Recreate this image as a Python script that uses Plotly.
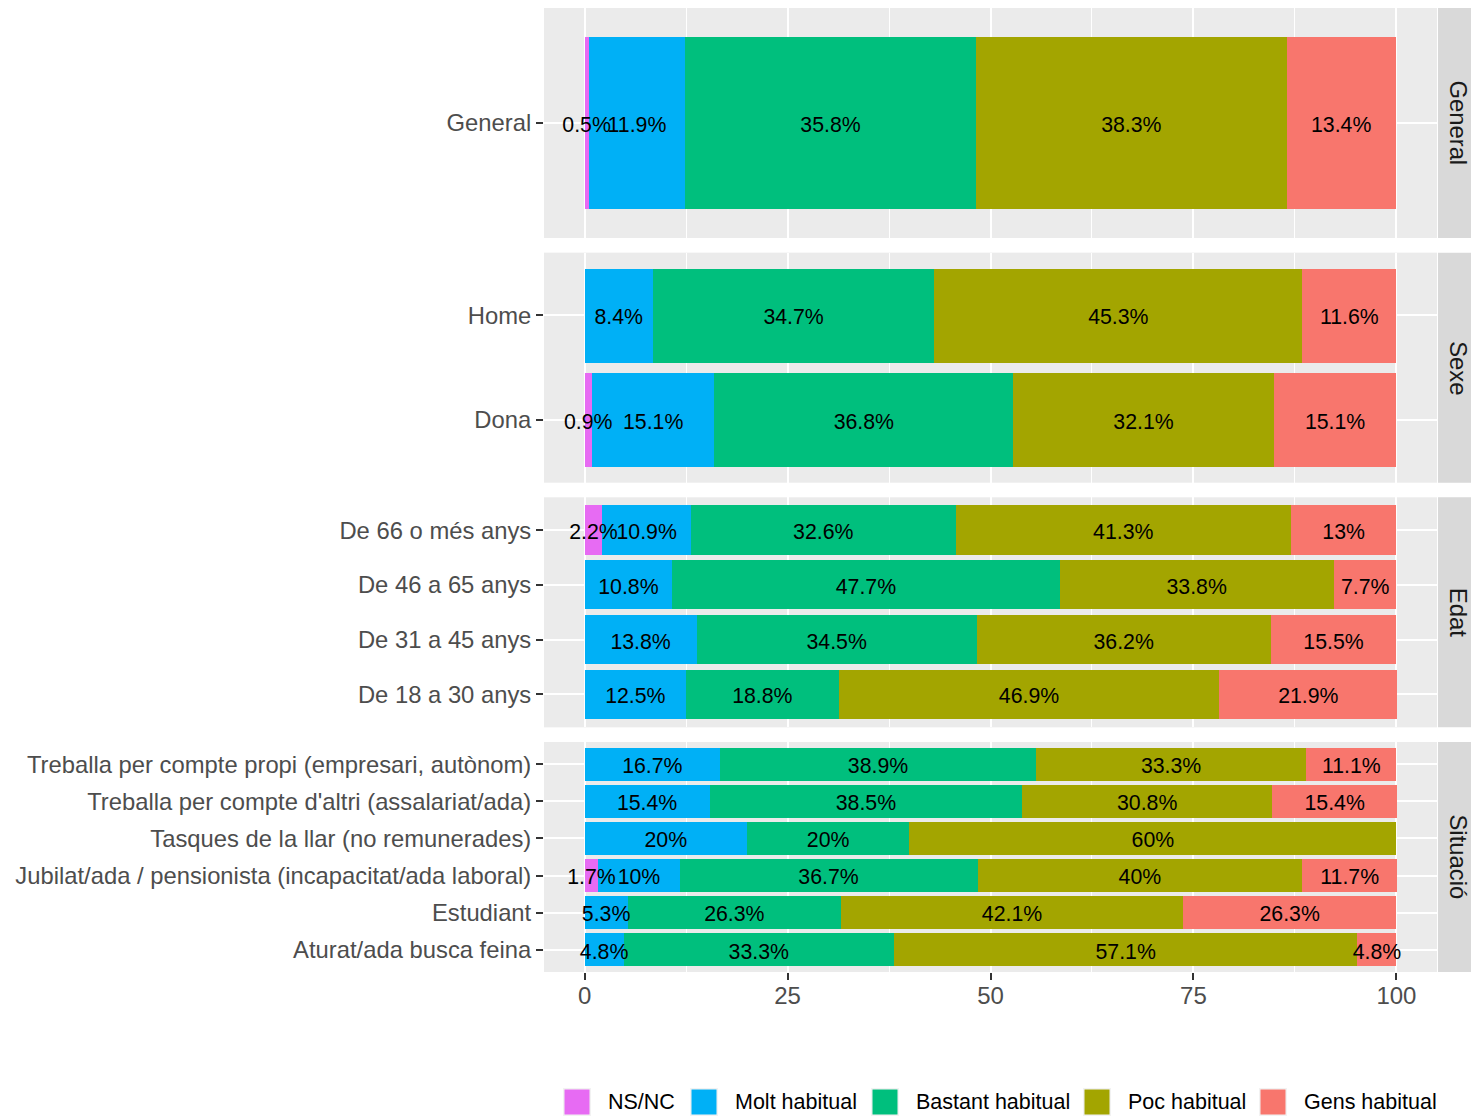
import plotly.graph_objects as go

# ---------------- data ----------------
responses = ["NS/NC", "Molt habitual", "Bastant habitual", "Poc habitual", "Gens habitual"]
colors = ["#E76BF3", "#00B0F6", "#00BF7D", "#A3A500", "#F8766D"]

facets = ["General", "Sexe", "Edat", "Situació"]

# rows listed bottom-to-top (ggplot order)
general_rows = ["General"]
sexe_rows = ["Dona", "Home"]
edat_rows = ["De 18 a 30 anys", "De 31 a 45 anys", "De 46 a 65 anys", "De 66 o més anys"]
situacio_rows = [
    "Aturat/ada busca feina",
    "Estudiant",
    "Jubilat/ada / pensionista (incapacitat/ada laboral)",
    "Tasques de la llar (no remunerades)",
    "Treballa per compte d'altri (assalariat/ada)",
    "Treballa per compte propi (empresari, autònom)",
]

general_nsnc = [0.5]
general_molt = [11.9]
general_bastant = [35.8]
general_poc = [38.3]
general_gens = [13.4]

sexe_nsnc = [0.9, 0]
sexe_molt = [15.1, 8.4]
sexe_bastant = [36.8, 34.7]
sexe_poc = [32.1, 45.3]
sexe_gens = [15.1, 11.6]

edat_nsnc = [0, 0, 0, 2.2]
edat_molt = [12.5, 13.8, 10.8, 10.9]
edat_bastant = [18.8, 34.5, 47.7, 32.6]
edat_poc = [46.9, 36.2, 33.8, 41.3]
edat_gens = [21.9, 15.5, 7.7, 13]

situacio_nsnc = [0, 0, 1.7, 0, 0, 0]
situacio_molt = [4.8, 5.3, 10, 20, 15.4, 16.7]
situacio_bastant = [33.3, 26.3, 36.7, 20, 38.5, 38.9]
situacio_poc = [57.1, 42.1, 40, 60, 30.8, 33.3]
situacio_gens = [4.8, 26.3, 11.7, 0, 15.4, 11.1]

x_ticks = [0, 25, 50, 75, 100]
x_minor = [12.5, 37.5, 62.5, 87.5]

facet_rows = [general_rows, sexe_rows, edat_rows, situacio_rows]
facet_values = [
    [general_nsnc, general_molt, general_bastant, general_poc, general_gens],
    [sexe_nsnc, sexe_molt, sexe_bastant, sexe_poc, sexe_gens],
    [edat_nsnc, edat_molt, edat_bastant, edat_poc, edat_gens],
    [situacio_nsnc, situacio_molt, situacio_bastant, situacio_poc, situacio_gens],
]

# ---------------- layout geometry ----------------
W, H = 1471, 1116
FONT = "Liberation Sans, Arial, Helvetica, sans-serif"
LABEL_SIZE = 21.3
LABEL_DROP_PX = 3.5  # nudge segment labels down so they share the tick-label baseline


def px(x):
    return x / W


def py(y):
    return 1 - y / H


panel_left, panel_right = 544, 1437
strip_left, strip_right = 1438, 1471
panel_top, panel_bottom = 8, 972
n_panels = len(facets)
gap = 14.67
panel_h = (panel_bottom - panel_top - gap * (n_panels - 1)) / n_panels

fig = go.Figure()
shapes = []
annotations = []

for i, (facet, rows, vals) in enumerate(zip(facets, facet_rows, facet_values)):
    ax = "" if i == 0 else str(i + 1)
    xref, yref = "x" + ax, "y" + ax
    n = len(rows)
    pos = list(range(n))
    y_lo, y_hi = -0.6, n - 0.4
    drop = LABEL_DROP_PX * (y_hi - y_lo) / panel_h

    for j, resp in enumerate(responses):
        fig.add_trace(go.Bar(
            x=vals[j], y=pos, orientation="h", width=0.9,
            marker=dict(color=colors[j], line=dict(width=0)),
            name=resp, showlegend=False, xaxis=xref, yaxis=yref,
            customdata=rows,
            hovertemplate="%{customdata}<br>" + resp + ": %{x}%<extra></extra>",
        ))
    # labels centred in each segment
    tx, ty, tt = [], [], []
    for r in range(n):
        cum = 0.0
        for j in range(len(responses)):
            v = vals[j][r]
            if v > 0:
                tx.append(cum + v / 2)
                ty.append(pos[r] - drop)
                tt.append(f"{v:g}%")
            cum += v
    fig.add_trace(go.Scatter(
        x=tx, y=ty, text=tt, mode="text", textposition="middle center",
        textfont=dict(size=LABEL_SIZE, color="black", family=FONT),
        showlegend=False, hoverinfo="skip", xaxis=xref, yaxis=yref,
        cliponaxis=False,
    ))

    top = panel_top + i * (panel_h + gap)
    bot = top + panel_h
    dom = [py(bot), py(top)]
    is_bottom = i == n_panels - 1
    fig.layout["xaxis" + ax] = dict(
        domain=[px(panel_left), px(panel_right)], anchor=yref,
        range=[-5, 105], tickmode="array", tickvals=x_ticks,
        showgrid=True, gridcolor="white", gridwidth=2.2, zeroline=False,
        showline=False,
        minor=dict(tickmode="array", tickvals=x_minor, showgrid=True,
                   gridcolor="white", gridwidth=1.1, ticks=""),
        showticklabels=is_bottom,
        ticks="outside" if is_bottom else "", ticklen=7, tickwidth=2,
        tickcolor="#333333", ticklabelstandoff=-5,
        tickfont=dict(size=24, color="#4D4D4D", family=FONT),
        fixedrange=True,
    )
    fig.layout["yaxis" + ax] = dict(
        domain=dom, anchor=xref, type="linear",
        tickmode="array", tickvals=pos, ticktext=rows,
        range=[y_lo, y_hi],
        showgrid=True, gridcolor="white", gridwidth=2.2, zeroline=False,
        showline=False, ticks="outside", ticklen=7, tickwidth=2,
        tickcolor="#333333",
        tickfont=dict(size=23.8, color="#4D4D4D", family=FONT),
        fixedrange=True,
    )
    # facet strip
    shapes.append(dict(type="rect", xref="paper", yref="paper",
                       x0=px(strip_left), x1=px(strip_right),
                       y0=dom[0], y1=dom[1], fillcolor="#D9D9D9",
                       line=dict(width=0), layer="below"))
    annotations.append(dict(xref="paper", yref="paper",
                            x=(px(strip_left) + px(strip_right)) / 2,
                            y=(dom[0] + dom[1]) / 2, text=facet,
                            textangle=90, showarrow=False, xshift=4,
                            font=dict(size=23.8, color="#1A1A1A", family=FONT),
                            xanchor="center", yanchor="middle"))

# ---------------- legend (drawn manually, ggplot-style square keys) ----------------
legend_key_x = [563, 690, 871, 1083, 1259]
key_size = 28
key_top = 1088
for name, col, kx in zip(responses, colors, legend_key_x):
    shapes.append(dict(type="rect", xref="paper", yref="paper",
                       x0=px(kx), x1=px(kx + key_size),
                       y0=py(key_top + key_size), y1=py(key_top),
                       fillcolor="#F2F2F2", line=dict(width=0)))
    shapes.append(dict(type="rect", xref="paper", yref="paper",
                       x0=px(kx + 1.5), x1=px(kx + key_size - 1.5),
                       y0=py(key_top + key_size - 1.5), y1=py(key_top + 1.5),
                       fillcolor=col, line=dict(width=0)))
    annotations.append(dict(xref="paper", yref="paper",
                            x=px(kx + key_size + 15),
                            y=py(key_top + key_size / 2),
                            text=name, showarrow=False, xanchor="left",
                            yanchor="middle",
                            font=dict(size=21.5, color="black", family=FONT)))

fig.update_layout(
    width=W, height=H, autosize=False,
    margin=dict(l=0, r=0, t=0, b=0),
    paper_bgcolor="white", plot_bgcolor="#EBEBEB",
    barmode="stack", bargap=0,
    showlegend=False,
    shapes=shapes, annotations=annotations,
    font=dict(family=FONT),
)

fig.write_html(
    "out.html",
    config={"displayModeBar": False},
    post_script="document.body.style.margin='0';"
                "document.body.style.overflow='hidden';",
)
